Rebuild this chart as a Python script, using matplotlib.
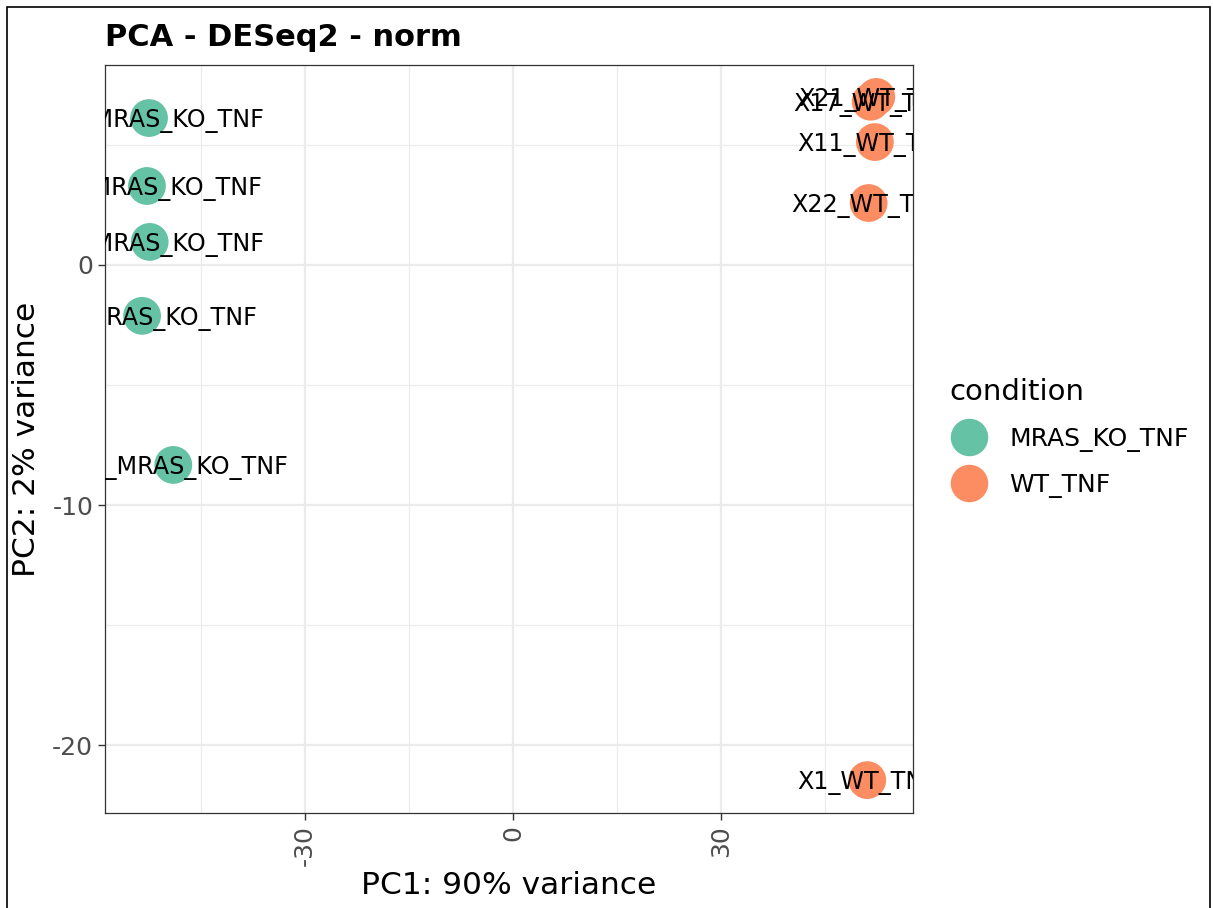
import matplotlib
matplotlib.use("Agg")
import matplotlib.pyplot as plt
from matplotlib.lines import Line2D
from matplotlib.patches import Rectangle

plt.rcParams["axes.unicode_minus"] = False

# PCA coordinates
ko_names = ["X12_MRAS_KO_TNF", "X13_MRAS_KO_TNF", "X18_MRAS_KO_TNF", "X19_MRAS_KO_TNF", "X23_MRAS_KO_TNF"]
ko_pc1 = [-52.5, -52.8, -52.4, -53.5, -49.0]
ko_pc2 = [6.12, 3.29, 0.96, -2.12, -8.33]

wt_names = ["X17_WT_TNF", "X21_WT_TNF", "X11_WT_TNF", "X22_WT_TNF", "X1_WT_TNF"]
wt_pc1 = [51.6, 52.4, 52.2, 51.3, 51.1]
wt_pc2 = [6.80, 7.00, 5.12, 2.58, -21.46]

conditions = ["MRAS_KO_TNF", "WT_TNF"]
colors = ["#66C2A5", "#FC8D62"]

W, H = 1213, 908
fig = plt.figure(figsize=(W / 100, H / 100), dpi=100)
ax = fig.add_axes([105 / W, 1 - 813 / H, (913 - 105) / W, (813 - 65) / H])

grid_c = "#EBEBEB"
for v in [-45, -15, 15, 45]:
    ax.axvline(v, color=grid_c, lw=0.8, zorder=0)
for v in [-30, 0, 30]:
    ax.axvline(v, color=grid_c, lw=1.6, zorder=0)
for v in [5, -5, -15]:
    ax.axhline(v, color=grid_c, lw=0.8, zorder=0)
for v in [0, -10, -20]:
    ax.axhline(v, color=grid_c, lw=1.6, zorder=0)

groups = [(ko_names, ko_pc1, ko_pc2), (wt_names, wt_pc1, wt_pc2)]
for (names, xs, ys), c in zip(groups, colors):
    ax.scatter(xs, ys, s=740, color=c, edgecolors="none", zorder=2)
for names, xs, ys in groups:
    for n, x, y in zip(names, xs, ys):
        ax.text(x, y, n, ha="center", va="center_baseline", fontsize=17.2, color="black",
                clip_on=True, zorder=3)

ax.set_xlim(-58.85, 57.7)
ax.set_ylim(-22.83, 8.33)
ax.set_xticks([-30, 0, 30])
ax.set_xticklabels(["-30", "0", "30"], rotation=90, va="top")
ax.set_yticks([0, -10, -20])
ax.tick_params(axis="both", colors="#333333", labelcolor="#4D4D4D", labelsize=18,
               length=5, width=1)
for s in ax.spines.values():
    s.set_color("#333333")
    s.set_linewidth(0.9)

ax.set_xlabel("PC1: 90% variance", fontsize=22.5, labelpad=4)
ax.set_ylabel("PC2: 2% variance", fontsize=22.5, labelpad=8)
fig.text(105 / W, 1 - 46 / H, "PCA - DESeq2 - norm", fontsize=22, fontweight="semibold",
         ha="left", va="baseline")

handles = [Line2D([], [], marker="o", ls="none", markersize=27, color=c,
                  markeredgewidth=0) for c in colors]
leg = fig.legend(handles, conditions, title="condition", loc="upper left",
                 bbox_to_anchor=(932 / W, 1 - 360 / H), frameon=False, fontsize=18,
                 title_fontsize=21, handletextpad=0.8, labelspacing=0.85,
                 borderpad=0.2, handlelength=1.6)
leg._legend_box.align = "left"

# screenshot frame
fig.patches.append(Rectangle((7 / W, -0.05), (1210 - 7) / W, 1.05 - 7 / H,
                             transform=fig.transFigure, fill=False,
                             edgecolor="black", lw=1.2))

fig.savefig("out.png", dpi=100)
